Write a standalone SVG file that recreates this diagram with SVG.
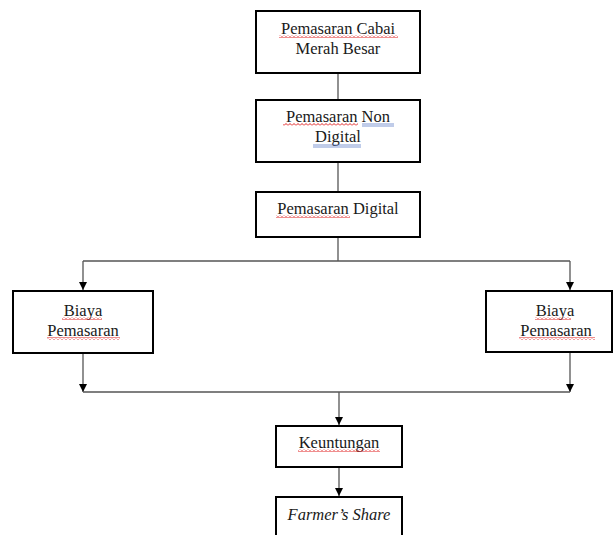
<svg xmlns="http://www.w3.org/2000/svg" width="613" height="535" viewBox="0 0 613 535">
<style>
.box{fill:#fff;stroke:#000;stroke-width:2}
.t{font-family:"Liberation Serif","Times New Roman",serif;font-size:16.5px;fill:#1a1a1a;text-anchor:middle}
.it{font-style:italic}
.c{stroke:#555;stroke-width:1.3;fill:none}
.sq{fill:url(#sq)}
.bl{stroke:#4a6fc0;stroke-width:0.7}
</style>
<defs>
<pattern id="sq" patternUnits="userSpaceOnUse" width="4" height="3">
<path d="M0 2.5 L2 0.5 L4 2.5" stroke="#e02020" stroke-width="1" fill="none"/>
</pattern>
<marker id="ah" markerWidth="8" markerHeight="8" refX="8" refY="4" orient="auto" markerUnits="userSpaceOnUse">
<path d="M0 0 L8 4 L0 8 Z" fill="#000"/>
</marker>
</defs>
<rect width="613" height="535" fill="#fff"/>
<g id="connectors">
<line class="c" x1="338" y1="73" x2="338" y2="100"/>
<line class="c" x1="338" y1="163" x2="338" y2="192"/>
<line class="c" x1="338" y1="237" x2="338" y2="261"/>
<line class="c" x1="83" y1="261" x2="570" y2="261"/>
<line class="c" x1="83" y1="261" x2="83" y2="290" marker-end="url(#ah)"/>
<line class="c" x1="570" y1="261" x2="570" y2="290" marker-end="url(#ah)"/>
<line class="c" x1="83" y1="353" x2="83" y2="392" marker-end="url(#ah)"/>
<line class="c" x1="570" y1="352" x2="570" y2="392" marker-end="url(#ah)"/>
<line class="c" x1="83" y1="392" x2="570" y2="392"/>
<line class="c" x1="339" y1="392" x2="339" y2="425" marker-end="url(#ah)"/>
<line class="c" x1="339" y1="467" x2="339" y2="496" marker-end="url(#ah)"/>
</g>
<g id="n1">
<rect class="box" x="256" y="11" width="164" height="62"/>
<text class="t" x="338" y="34">Pemasaran Cabai</text>
<text class="t" x="338" y="54">Merah Besar</text>
<rect class="sq" x="279" y="35" width="119" height="3"/>
</g>
<g id="n2">
<rect class="box" x="256" y="100" width="164" height="62"/>
<text class="t" x="338" y="122">Pemasaran Non </text>
<text class="t" x="338" y="142">Digital</text>
<rect class="sq" x="283" y="123" width="75" height="3"/>
<line class="bl" x1="362" y1="124" x2="394" y2="124"/>
<line class="bl" x1="362" y1="126" x2="394" y2="126"/>
<line class="bl" x1="313" y1="145" x2="361" y2="145"/>
<line class="bl" x1="313" y1="147" x2="361" y2="147"/>
</g>
<g id="n3">
<rect class="box" x="256" y="192" width="164" height="45"/>
<text class="t" x="338" y="214">Pemasaran Digital</text>
<rect class="sq" x="276" y="215" width="74" height="3"/>
</g>
<g id="n4">
<rect class="box" x="13" y="291" width="140" height="62"/>
<text class="t" x="83" y="316">Biaya</text>
<text class="t" x="83" y="336">Pemasaran</text>
<rect class="sq" x="62" y="317" width="40" height="3"/>
<rect class="sq" x="47" y="337" width="73" height="3"/>
</g>
<g id="n5">
<rect class="box" x="486" y="291" width="126" height="61"/>
<text class="t" x="555" y="316">Biaya</text>
<text class="t" x="556" y="336">Pemasaran</text>
<rect class="sq" x="535" y="317" width="36" height="3"/>
<rect class="sq" x="519" y="337" width="76" height="3"/>
</g>
<g id="n6">
<rect class="box" x="276" y="426" width="126" height="41"/>
<text class="t" x="339" y="448">Keuntungan</text>
<rect class="sq" x="298" y="449" width="82" height="3"/>
</g>
<g id="n7">
<rect class="box" x="276" y="497" width="126" height="45"/>
<text class="t it" x="339" y="520">Farmer’s Share</text>
</g>
</svg>
